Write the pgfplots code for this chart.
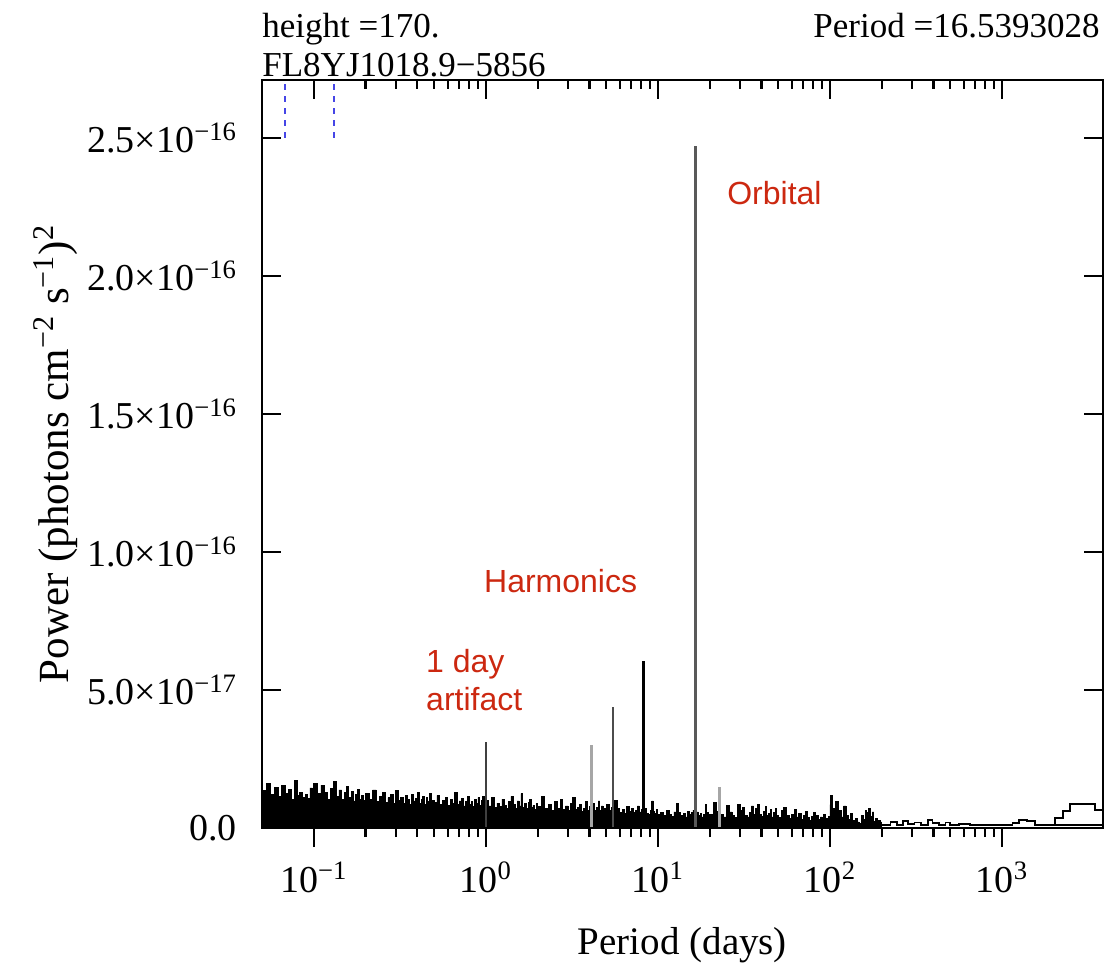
\documentclass[border=0pt]{standalone}
\usepackage{pgfplots}
\pgfplotsset{compat=1.18}
\usepackage{fontspec}
\setmainfont{Liberation Serif}
\newfontfamily\arialfont{Liberation Sans}
\definecolor{annot}{RGB}{204,40,16}
\definecolor{dblue}{RGB}{70,70,230}
\begin{document}
\begin{tikzpicture}
\useasboundingbox (-131pt,-71.5pt) rectangle (421.5pt,414pt);
\begin{axis}[
  at={(0,0)}, anchor=south west, scale only axis,
  width=420.5pt, height=374pt,
  xmode=log, xmin=0.05, xmax=3866, ymin=0, ymax=27.1,
  clip=false,
  axis line style={line width=1.1pt},
  every tick/.style={black, line width=1.1pt},
  major tick length=9.5pt, minor tick length=4.5pt,
  xtick pos=left, xtick align=outside,
  ytick pos=both, ytick align=inside,
  xtick={0.1,1,10,100,1000},
  xticklabels={10\textsuperscript{−1},10\textsuperscript{0},10\textsuperscript{1},10\textsuperscript{2},10\textsuperscript{3}},
  ytick={0,5,10,15,20,25},
  yticklabels={0.0,5.0×10\textsuperscript{−17},1.0×10\textsuperscript{−16},1.5×10\textsuperscript{−16},2.0×10\textsuperscript{−16},2.5×10\textsuperscript{−16}},
  tick label style={font=\fontsize{19}{22}\selectfont},
  yticklabel style={xshift=-9pt},
  xticklabel style={yshift=-4pt},
  xlabel={Period (days)},
  ylabel={Power (photons cm\textsuperscript{−2} s\textsuperscript{−1})\textsuperscript{2}},
  xlabel style={font=\fontsize{19.5}{22}\selectfont, at={(axis description cs:0.5,-0.156)}, anchor=center},
  ylabel style={font=\fontsize{21.5}{24}\selectfont, at={(axis description cs:-0.245,0.5)}, anchor=center, rotate=0},
]
% dense periodogram noise (units of 1e-17)
\addplot[const plot, fill=black, draw=black, line width=0.4pt] coordinates {
(0.050,1.35)(0.053,1.62)(0.056,1.20)(0.059,1.48)(0.062,1.15)(0.065,1.55)(0.068,1.25)(0.071,1.40)(0.074,1.05)(0.077,1.72)(0.080,1.18)(0.083,1.30)(0.086,1.10)(0.089,1.22)(0.092,1.08)(0.095,1.45)(0.098,1.12)
(0.100,1.60)(0.105,1.25)(0.110,1.55)(0.115,1.30)(0.120,1.05)(0.125,1.42)(0.130,1.70)(0.135,1.15)(0.140,1.38)(0.145,1.02)(0.150,1.28)(0.155,1.50)(0.160,1.10)(0.165,1.33)(0.170,0.98)(0.175,1.20)(0.180,1.40)(0.185,1.05)(0.190,1.18)(0.195,1.00)
(0.20,1.25)(0.21,1.05)(0.22,1.38)(0.23,0.95)(0.24,1.15)(0.25,1.30)(0.26,0.92)(0.27,1.10)(0.28,1.22)(0.29,0.88)(0.30,1.35)(0.31,1.00)(0.32,1.12)(0.33,0.90)(0.34,1.18)(0.35,1.05)(0.36,0.85)(0.37,1.20)(0.38,0.98)(0.39,1.08)(0.40,1.30)(0.41,0.90)(0.42,1.02)(0.43,1.15)(0.44,0.86)(0.45,1.10)(0.46,0.95)(0.47,1.25)(0.48,0.88)(0.49,1.00)
(0.50,0.92)(0.52,1.18)(0.54,0.85)(0.56,1.00)(0.58,1.12)(0.60,0.82)(0.62,1.05)(0.64,0.90)(0.66,1.30)(0.68,0.85)(0.70,0.98)(0.72,1.08)(0.74,0.80)(0.76,0.95)(0.78,1.15)(0.80,0.84)(0.82,0.96)(0.84,0.78)(0.86,1.02)(0.88,0.90)(0.90,1.10)(0.92,0.82)(0.94,1.00)(0.96,1.15)(0.98,0.88)
(1.00,1.00)(1.04,0.80)(1.08,1.12)(1.12,0.75)(1.16,0.90)(1.20,0.78)(1.24,1.05)(1.28,0.82)(1.32,0.70)(1.36,0.95)(1.40,1.15)(1.44,0.85)(1.48,0.72)(1.52,0.98)(1.56,0.80)(1.60,1.25)(1.64,0.76)(1.68,0.88)(1.72,0.70)(1.76,0.92)(1.80,1.05)(1.84,0.74)(1.88,0.82)(1.92,0.68)(1.96,0.90)
(2.0,0.78)(2.1,1.15)(2.2,0.70)(2.3,0.85)(2.4,0.65)(2.5,0.95)(2.6,0.72)(2.7,1.05)(2.8,0.68)(2.9,0.80)(3.0,0.62)(3.1,0.90)(3.2,1.10)(3.3,0.66)(3.4,0.75)(3.5,0.85)(3.6,0.60)(3.7,0.72)(3.8,0.95)(3.9,0.64)(4.0,0.78)(4.1,0.70)(4.2,0.88)(4.3,0.62)(4.4,0.75)(4.5,0.98)(4.6,0.65)(4.7,0.80)(4.8,0.58)(4.9,0.70)
(5.0,0.85)(5.2,0.62)(5.4,0.75)(5.6,1.00)(5.8,0.70)(6.0,0.55)(6.2,0.68)(6.4,0.52)(6.6,0.78)(6.8,0.60)(7.0,0.72)(7.2,0.55)(7.4,0.64)(7.6,0.80)(7.8,0.58)(8.0,0.66)(8.2,0.62)(8.4,0.70)(8.6,0.54)(8.8,0.50)(9.0,0.62)(9.2,0.98)(9.4,0.60)(9.6,0.52)(9.8,0.68)
(10.0,0.48)(10.4,0.55)(10.8,0.45)(11.2,0.62)(11.6,0.50)(12.0,0.42)(12.4,0.58)(12.8,0.88)(13.2,0.56)(13.6,0.45)(14.0,0.52)(14.4,0.40)(14.8,0.60)(15.2,0.48)(15.6,0.55)(16.0,0.65)(16.4,0.75)(16.8,0.58)(17.2,0.45)(17.6,0.52)(18.0,0.40)(18.4,0.48)(18.8,0.85)(19.2,0.55)(19.6,0.42)
(20,0.50)(21,0.92)(22,0.60)(23,0.48)(24,0.40)(25,0.82)(26,0.58)(27,0.45)(28,0.38)(29,0.85)(30,0.62)(31,0.75)(32,0.45)(33,0.40)(34,0.55)(35,0.80)(36,0.48)(37,0.72)(38,0.85)(39,0.50)(40,0.42)(41,0.60)(42,0.78)(43,0.45)(44,0.52)(45,0.68)(46,0.40)(47,0.55)(48,0.72)(49,0.45)
(50,0.38)(52,0.62)(54,0.75)(56,0.45)(58,0.35)(60,0.48)(62,0.68)(64,0.40)(66,0.52)(68,0.32)(70,0.45)(72,0.60)(74,0.38)(76,0.28)(78,0.42)(80,0.55)(82,0.35)(84,0.45)(86,0.30)(88,0.40)(90,0.38)(92,0.48)(94,0.32)(96,0.36)(98,0.42)
(100,0.85)(104,0.70)(108,0.95)(112,0.62)(116,0.40)(120,0.80)(124,0.45)(128,0.30)(132,0.52)(136,0.28)(140,0.35)(144,0.22)(148,0.18)(152,0.45)(156,0.30)(160,0.62)(164,0.55)(168,0.70)(172,0.42)(176,0.58)(180,0.25)(184,0.35)(188,0.20)(192,0.28)(196,0.22)(200,0.22)
} \closedcycle;
% sparse long-period part (outline only)
\addplot[const plot, black, line width=0.9pt] coordinates {
(200,0.12)(225,0.22)(245,0.12)(265,0.25)(285,0.15)(310,0.20)(340,0.12)(370,0.28)(395,0.18)(430,0.12)(470,0.20)(500,0.12)(560,0.14)(650,0.10)(760,0.12)(880,0.10)(1000,0.12)(1150,0.18)(1250,0.28)(1400,0.25)(1550,0.12)(1750,0.10)(2030,0.35)(2260,0.62)(2480,0.87)(3470,0.65)(3866,0.65)
};
\addplot[black, line width=0.9pt] coordinates {(1750,0.12)(3866,0.12)};
% peaks
\addplot[ycomb, black!75, line width=1.1pt] coordinates {(1.0,3.12)};
\addplot[ycomb, black!35, line width=1.6pt] coordinates {(4.13,3.0)(22.9,1.5)};
\addplot[ycomb, black!70, line width=1.1pt] coordinates {(5.51,4.38)};
\addplot[ycomb, black, line width=1.2pt] coordinates {(8.27,6.05)(102,1.2)};
\addplot[ycomb, black!65, line width=1.3pt] coordinates {(16.54,24.7)};
% blue dashed markers
\addplot[dblue, dashed, line width=0.9pt, dash pattern=on 3pt off 3pt] coordinates {(0.068,25)(0.068,27.1)};
\addplot[dblue, dashed, line width=0.9pt, dash pattern=on 3pt off 3pt] coordinates {(0.131,25)(0.131,27.1)};
% annotations
\node[anchor=west, inner sep=0, text=annot, font=\arialfont\fontsize{16}{18}\selectfont] at (axis cs:25.2,23.0) {Orbital};
\node[anchor=west, inner sep=0, text=annot, font=\arialfont\fontsize{16}{18}\selectfont] at (axis cs:0.973,8.95) {Harmonics};
\node[anchor=west, inner sep=0, text=annot, align=left, font=\arialfont\fontsize{16}{19}\selectfont] at (axis cs:0.448,5.36) {1 day\\artifact};
% header texts
\node[anchor=base west, inner sep=0, yshift=21.5pt, font=\fontsize{17.5}{20}\selectfont] at (rel axis cs:0,1) {height =170.};
\node[anchor=base west, inner sep=0, yshift=2pt, font=\fontsize{17.5}{20}\selectfont] at (rel axis cs:0,1) {FL8YJ1018.9−5856};
\node[anchor=base east, inner sep=0, yshift=21.5pt, xshift=-1.5pt, font=\fontsize{17.5}{20}\selectfont] at (rel axis cs:1,1) {Period =16.5393028};
\end{axis}
\begin{axis}[
  at={(0,0)}, anchor=south west, scale only axis,
  width=420.5pt, height=374pt,
  xmode=log, xmin=0.05, xmax=3866, ymin=0, ymax=27.1,
  axis line style={line width=1.1pt},
  every tick/.style={black, line width=1.1pt},
  major tick length=9.5pt, minor tick length=4.5pt,
  xtick pos=right, xtick align=inside,
  xtick={0.1,1,10,100,1000}, xticklabels={},
  ytick=\empty,
]
\addplot[draw=none] coordinates {(1,1)};
\end{axis}
\end{tikzpicture}
\end{document}
